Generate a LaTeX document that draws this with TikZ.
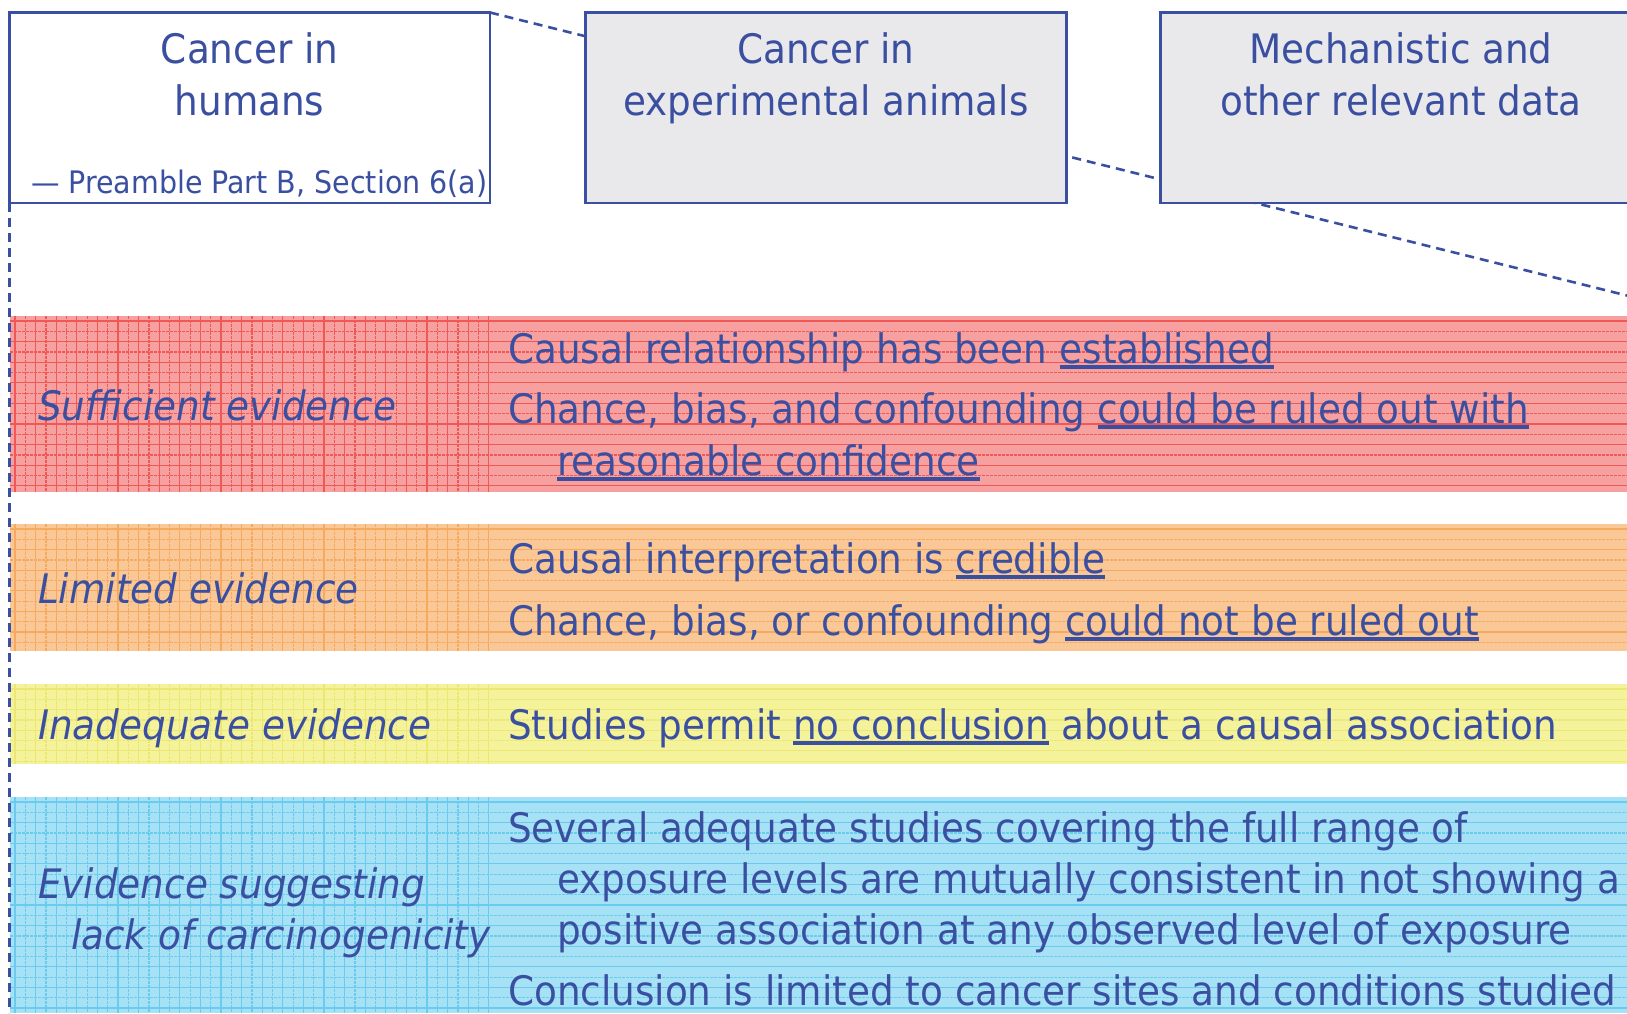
\documentclass[tikz,border=0pt]{standalone}
\usepackage{fontspec}
\setmainfont{DejaVu Sans Condensed}[FakeStretch=1.022]
\usepackage{tikz}
\usetikzlibrary{positioning}

\definecolor{txtblue}{HTML}{3B4FA1}
\definecolor{boxgray}{HTML}{E9E9EC}
\definecolor{redbase}{HTML}{F6A0A0}
\definecolor{redline}{HTML}{EE4444}
\definecolor{orbase}{HTML}{F9C896}
\definecolor{orline}{HTML}{F4A04E}
\definecolor{yelbase}{HTML}{F5F29C}
\definecolor{yelline}{HTML}{EAE462}
\definecolor{bluebase}{HTML}{A6E1F6}
\definecolor{blueline}{HTML}{58C5EC}

\newcommand{\bodyfont}{\fontsize{40.6}{48}\selectfont}
\newcommand{\notefont}{\fontsize{31}{38}\selectfont}
\newsavebox{\ulbox}
\newcommand{\undl}[1]{\sbox{\ulbox}{#1}\rlap{\rule[-0.14em]{\wd\ulbox}{0.08em}}\usebox{\ulbox}}

\tikzset{
  hdr/.style={draw=txtblue, line width=2.5pt, minimum width=480.7pt, minimum height=190.5pt, inner sep=0pt, outer sep=0pt},
  guide/.style={draw=txtblue, line width=2.6pt, dash pattern=on 9pt off 6pt},
  gridsolid/.style={draw=#1!90, line width=1.2pt},
  griddash/.style={draw=#1!90, line width=1.2pt, dash pattern=on 3pt off 1pt},
  bodytxt/.style={text=txtblue, font=\bodyfont, inner sep=0pt, anchor=base west},
  labtxt/.style={bodytxt, font=\bodyfont\itshape},
  hdrtxt/.style={bodytxt, anchor=base},
  notetxt/.style={bodytxt, font=\notefont}
}

% band: top, bottom, base colour, line colour
\newcommand{\evband}[4]{%
  \fill[#3] (10,#1) rectangle (1627,#2);
  \begin{scope}
    \clip (10,#1) rectangle (1627,#2);
    \foreach \k in {0,...,22} {
      \draw[gridsolid=#4] (10,#1+5+20.6*\k) -- (1627,#1+5+20.6*\k);
      \draw[griddash=#4] (10,#1+15.3+20.6*\k) -- (1627,#1+15.3+20.6*\k);
    }
    \clip (10,#1) rectangle (491,#2);
    \foreach \k in {0,...,23} {
      \draw[gridsolid=#4] (15+20.6*\k,#1) -- (15+20.6*\k,#2);
      \draw[griddash=#4] (25.3+20.6*\k,#1) -- (25.3+20.6*\k,#2);
    }
  \end{scope}}

\begin{document}
\begin{tikzpicture}[x=1pt, y=-1pt]
  \useasboundingbox (0,0) rectangle (1627,1013);
  \clip (0,0) rectangle (1627,1013);

  % column headers
  \node[hdr, fill=white] (hum) at (249.65,107.75) {};

  % evidence bands
  \evband{316}{491.5}{redbase}{redline}
  \evband{524}{651}{orbase}{orline}
  \evband{684}{764}{yelbase}{yelline}
  \evband{797}{1013}{bluebase}{blueline}

  % zoom guides
  \coordinate (gEnd) at (1700,313.7);
  \coordinate (gBot) at (9.3,1013);
  \draw[guide] (hum.north east) -- (gEnd);
  \draw[guide] (hum.south west) -- (gBot);

  \node[hdr, fill=boxgray] (ani) at (826,107.75) {};
  \node[hdr, fill=boxgray] (mech) at (1401,107.75) {};

  \node[hdrtxt] (hum1) at (249.65,63) {Cancer in};
  \node[hdrtxt] (hum2) at (249.65,115) {humans};
  \node[notetxt] (humref) at (31,193) {— Preamble Part B, Section 6(a)};
  \node[hdrtxt] (ani1) at (826,63) {Cancer in};
  \node[hdrtxt] (ani2) at (826,115) {experimental animals};
  \node[hdrtxt] (mech1) at (1401,63) {Mechanistic and};
  \node[hdrtxt] (mech2) at (1401,115) {other relevant data};

  % sufficient
  \node[labtxt] (suf) at (38,420) {Sufficient evidence};
  \node[bodytxt] (suf1) at (508,363) {Causal relationship has been \undl{established}};
  \node[bodytxt] (suf2) at (508,423) {Chance, bias, and confounding \undl{could be ruled out with}};
  \node[bodytxt] (suf3) at (557,475) {\undl{reasonable confidence}};

  % limited
  \node[labtxt] (lim) at (38,603) {Limited evidence};
  \node[bodytxt] (lim1) at (508,573) {Causal interpretation is \undl{credible}};
  \node[bodytxt] (lim2) at (508,635) {Chance, bias, or confounding \undl{could not be ruled out}};

  % inadequate
  \node[labtxt] (ina) at (38,739) {Inadequate evidence};
  \node[bodytxt] (ina1) at (508,739) {Studies permit \undl{no conclusion} about a causal association};

  % lack of carcinogenicity
  \node[labtxt] (lack1) at (38,898) {Evidence suggesting};
  \node[labtxt] (lack2) at (71,949) {lack of carcinogenicity};
  \node[bodytxt] (lk1) at (508,842) {Several adequate studies covering the full range of};
  \node[bodytxt] (lk2) at (557,893) {exposure levels are mutually consistent in not showing a};
  \node[bodytxt] (lk3) at (557,944) {positive association at any observed level of exposure};
  \node[bodytxt] (lk4) at (508,1005) {Conclusion is limited to cancer sites and conditions studied};
\end{tikzpicture}
\end{document}
